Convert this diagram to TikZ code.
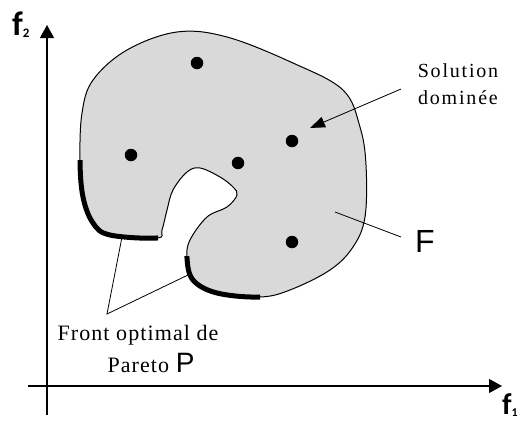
\documentclass[tikz,border=0pt]{standalone}
\usepackage{fontspec}
\setmainfont{Liberation Serif}
\newfontfamily\axisfont{Carlito}
\newfontfamily\letterfont{Liberation Sans}
\usetikzlibrary{arrows.meta}

\definecolor{blobgray}{RGB}{217,217,217}

\tikzset{
  axis/.style={line width=1.2pt, -{Triangle[length=13pt, width=14pt]}},
  dot/.style={circle, fill=black, inner sep=0pt, minimum size=12.5pt},
  paretoline/.style={line width=5pt},
  leader/.style={line width=0.8pt},
  pointer/.style={line width=0.8pt, -{Triangle[length=15pt, width=11pt]}},
}

% outline of the objective space
\def\blobpath{plot[smooth cycle, tension=0.6] coordinates {
  (80,160) (82,113) (93,80) (127,50) (177,32) (227,37) (293,63) (343,90)
  (360,127) (366,165) (365,217) (353,247) (330,270) (290,290) (260,297)
  (217,293) (193,280) (187,258) (190,240) (207,217) (227,207) (237,195)
  (233,187) (220,177) (200,168) (187,172) (173,190) (167,210) (162,230)
  (157,238) (110,235) (93,223) (83,197)}}

\begin{document}
\begin{tikzpicture}[x=1pt, y=-1pt]
    \useasboundingbox (0,0) rectangle (523,423);

    % Axes
    \coordinate (ybot) at (47,415);
    \coordinate (ytop) at (47,25);
    \coordinate (xleft) at (28,386);
    \coordinate (xright) at (502,386);
    \draw[axis] (ybot) -- (ytop);
    \draw[axis] (xleft) -- (xright);
    \node[anchor=base west, inner sep=0pt, font=\axisfont\bfseries\fontsize{34}{34}\selectfont] (f2) at (12,35)
        {f\raisebox{-0.08em}{\fontsize{13}{13}\selectfont 2}};
    \node[anchor=base west, inner sep=0pt, font=\axisfont\bfseries\fontsize{30}{30}\selectfont] (f1) at (502,414)
        {f\raisebox{-0.08em}{\fontsize{12}{12}\selectfont 1}};

    % Feasible set F
    \draw[fill=blobgray, line width=1pt] \blobpath;

    % Pareto front
    \begin{scope}
        \clip (60,160) rectangle (158,250);
        \draw[paretoline] \blobpath;
    \end{scope}
    \begin{scope}
        \clip (180,256) rectangle (260,305);
        \draw[paretoline] \blobpath;
    \end{scope}

    % Solutions
    \node[dot] (s1) at (197,63) {};
    \node[dot] (s2) at (131,155) {};
    \node[dot] (s3) at (238,163) {};
    \node[dot] (s4) at (292,141) {};
    \node[dot] (s5) at (292,242) {};

    % Labels
    \node[align=center, inner sep=0pt, font=\addfontfeature{LetterSpace=9}\fontsize{20}{27}\selectfont] (sol) at (458,84)
        {Solution\\domin\'ee};
    \coordinate (soltail) at (401,89);
    \coordinate (soltip) at (310,128);
    \draw[pointer] (soltail) -- (soltip);

    \node[inner sep=0pt, font=\letterfont\fontsize{32}{32}\selectfont] (F) at (425,241) {F};
    \coordinate (Fin) at (335,212);
    \coordinate (Fend) at (401,237);
    \draw[leader] (Fin) -- (Fend);

    \node[anchor=base, inner sep=0pt, font=\addfontfeature{LetterSpace=5}\fontsize{22}{26}\selectfont] (front) at (138,340)
        {Front optimal de};
    \node[anchor=base, inner sep=0pt, font=\addfontfeature{LetterSpace=5}\fontsize{22}{26}\selectfont] (pareto) at (151,372)
        {Pareto {\letterfont\fontsize{28}{28}\selectfont P}};
    \coordinate (fv) at (107,314);
    \coordinate (pl1) at (122,237);
    \coordinate (pl2) at (188,275);
    \draw[leader] (pl1) -- (fv) -- (pl2);
\end{tikzpicture}
\end{document}
